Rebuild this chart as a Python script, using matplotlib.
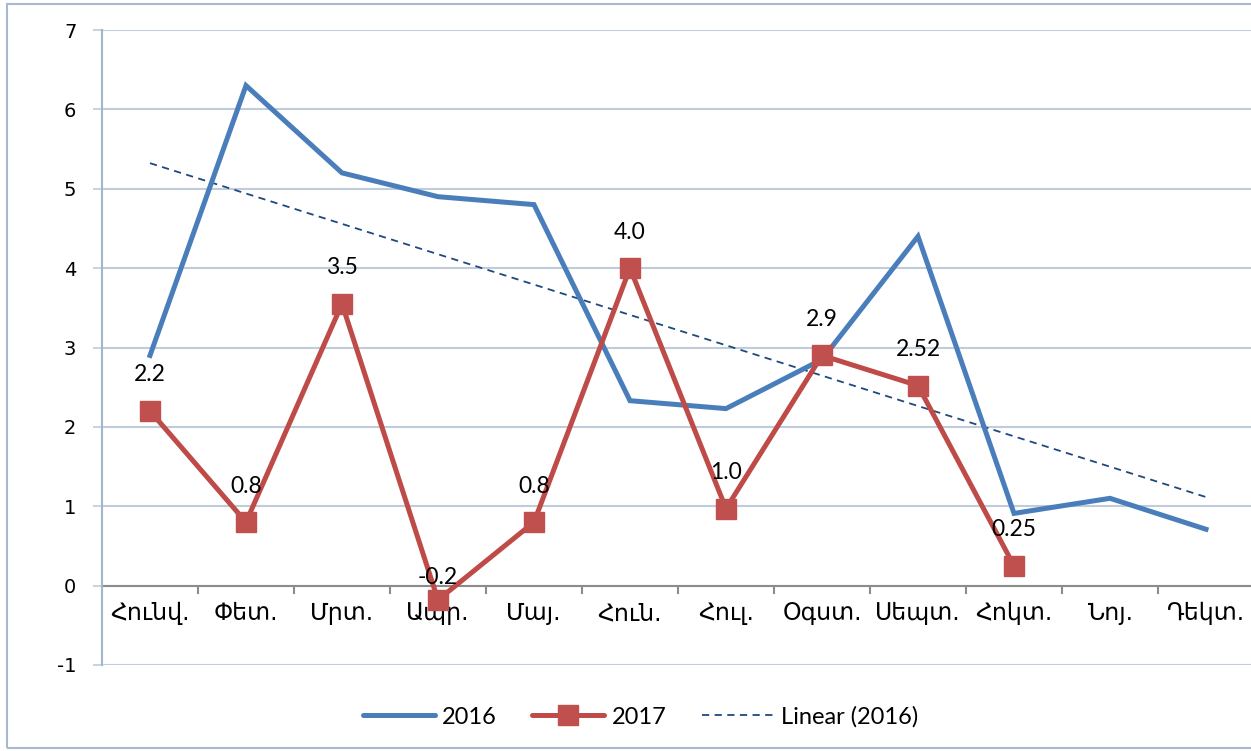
import numpy as np
import matplotlib
matplotlib.use("Agg")
import matplotlib.pyplot as plt
from matplotlib.patches import Rectangle
from matplotlib.lines import Line2D

months = ["Հունվ.", "Փետ.", "Մրտ.", "Ապր.", "Մայ.", "Հուն.", "Հուլ.", "Օգստ.", "Սեպտ.", "Հոկտ.", "Նոյ.", "Դեկտ."]
values_2016 = [2.9, 6.3, 5.2, 4.9, 4.8, 2.33, 2.23, 2.85, 4.4, 0.91, 1.1, 0.71]
values_2017 = [2.2, 0.8, 3.55, -0.18, 0.8, 4.0, 0.97, 2.9, 2.52, 0.25]
labels_2017 = ["2.2", "0.8", "3.5", "-0.2", "0.8", "4.0", "1.0", "2.9", "2.52", "0.25"]

BLUE = "#4A7EBB"
RED = "#BE4B48"
TREND = "#1F497D"
GRID = "#BFCCDC"
label_font = ["Lato", "DejaVu Sans"]

fig = plt.figure(figsize=(12.51, 7.51), dpi=100)
ax = fig.add_axes([102 / 1251, 1 - 665 / 751, (1254 - 102) / 1251, (665 - 30) / 751])

x16 = np.arange(len(values_2016))
x17 = np.arange(len(values_2017))

# trendline (linear fit of 2016)
coef = np.polyfit(x16, values_2016, 1)
ax.plot(x16[[0, -1]], np.polyval(coef, x16[[0, -1]]), color=TREND, lw=1.3,
        dashes=(4, 3), zorder=3)

ax.plot(x16, values_2016, color=BLUE, lw=3.6, solid_joinstyle="miter", zorder=4)
ax.plot(x17, values_2017, color=RED, lw=3.6, marker="s", markersize=14,
        markerfacecolor="#C0504D", markeredgecolor="#C0504D", zorder=5)

for xi, yi, lab in zip(x17, values_2017, labels_2017):
    off = 16 if yi < 0 else 26
    ax.annotate(lab, (xi, yi), xytext=(0, off), textcoords="offset points",
                ha="center", va="center", fontsize=16.5, family=label_font, zorder=6)

ax.set_xlim(-0.5, 11.5)
ax.set_ylim(-1, 7)
ax.set_yticks(range(-1, 8))
ax.set_yticklabels([str(v) for v in range(-1, 8)], fontsize=14, family="DejaVu Sans")
ax.yaxis.grid(True, color=GRID, lw=1.5, zorder=0)
ax.set_axisbelow(True)
ax.tick_params(axis="y", length=6.5, width=1.2, color=GRID, pad=12)

# x axis at zero
ax.spines["bottom"].set_position(("data", 0))
ax.spines["bottom"].set_color("#8C8C8C")
ax.spines["bottom"].set_linewidth(1.5)
ax.spines["bottom"].set_zorder(2)
ax.spines["top"].set_visible(False)
ax.spines["right"].set_visible(False)
ax.spines["left"].set_color("#A3B6CF")
ax.spines["left"].set_linewidth(1.5)
ax.set_xticks(np.arange(0.5, 11.5, 1.0))
ax.set_xticklabels([])
ax.tick_params(axis="x", which="major", length=6, width=1.5, color="#8C8C8C", direction="out")
ax.set_xticks(x16, minor=True)
ax.set_xticklabels(months, minor=True, fontsize=17, family=["DejaVu Sans"])
ax.tick_params(axis="x", which="minor", length=0, pad=11)

# legend
handles = [
    Line2D([], [], color=BLUE, lw=3.6, solid_capstyle="round"),
    Line2D([], [], color=RED, lw=3.6, marker="s", markersize=14, markerfacecolor="#C0504D",
           markeredgecolor="#C0504D", solid_capstyle="round"),
    Line2D([], [], color=TREND, lw=1.3, dashes=(4, 3)),
]
fig.legend(handles, ["2016", "2017", "Linear (2016)"], loc="center", bbox_to_anchor=(0.512, 1 - 717 / 751),
           ncol=3, frameon=False, prop={"family": label_font, "size": 17}, handlelength=3.05,
           columnspacing=1.5, handletextpad=0.3)

fig.patches.append(Rectangle((7 / 1251, 3 / 751), 1.0, 1 - 7 / 751, transform=fig.transFigure,
                             fill=False, edgecolor="#A6B9D2", lw=1.5))

fig.savefig("out.png", dpi=100)
